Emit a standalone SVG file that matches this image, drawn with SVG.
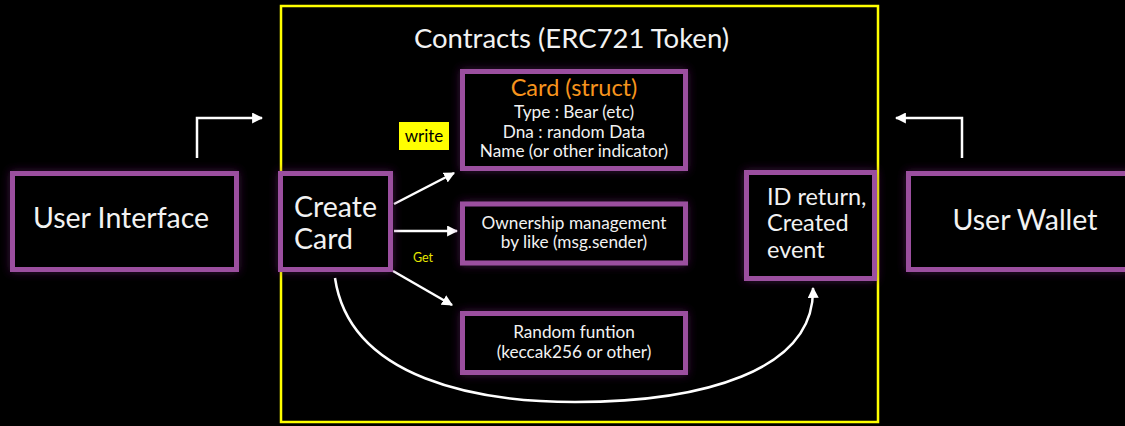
<svg xmlns="http://www.w3.org/2000/svg" width="1125" height="426" viewBox="0 0 1125 426">
<defs>
<style>
.box{fill:#050005;stroke:#9B509F;stroke-width:5;filter:url(#glow)}
.t{font-family:Lato,"Noto Sans",sans-serif;fill:#F2F2F2}
.big{font-size:28.5px}
.mid{font-size:23.5px}
.sm{font-size:17.2px}
.ln{fill:none;stroke:#FFFFFF;stroke-width:2.5}
</style>
<filter id="glow" x="-20%" y="-30%" width="140%" height="160%">
<feGaussianBlur in="SourceAlpha" stdDeviation="5" result="b"/>
<feFlood flood-color="#6A1F70" flood-opacity="0.55"/>
<feComposite in2="b" operator="in" result="g"/>
<feMerge><feMergeNode in="g"/><feMergeNode in="SourceGraphic"/></feMerge>
</filter>
<marker id="ah" viewBox="0 0 10 10" refX="9" refY="5" markerWidth="4.4" markerHeight="4.4" markerUnits="strokeWidth" orient="auto">
<path d="M0,0 L10,5 L0,10 z" fill="#FFFFFF"/>
</marker>
</defs>
<rect width="1125" height="426" fill="#000000"/>
<g id="contracts-frame">
<rect x="281" y="6" width="597" height="416" fill="none" stroke="#FFFF00" stroke-width="2.5"/>
<text class="t" x="571.5" y="48" font-size="27.5" text-anchor="middle">Contracts (ERC721 Token)</text>
</g>
<g id="connectors">
<polyline class="ln" points="197,158 197,118 262,118" marker-end="url(#ah)"/>
<polyline class="ln" points="962,158 962,118 896,118" marker-end="url(#ah)"/>
<line class="ln" x1="394" y1="204" x2="454" y2="173" marker-end="url(#ah)"/>
<line class="ln" x1="394" y1="231" x2="457" y2="231" marker-end="url(#ah)"/>
<line class="ln" x1="393" y1="271" x2="452" y2="305" marker-end="url(#ah)"/>
<path class="ln" d="M335,278 C350,380 480,402 575,402 C700,402 815,372 813,288" marker-end="url(#ah)"/>
<g id="label-write">
<rect x="399" y="122" width="50" height="28" fill="#FFFF00"/>
<text x="424" y="142" font-family="Lato,'Noto Sans',sans-serif" font-size="17" fill="#000000" text-anchor="middle">write</text>
</g>
<text x="413" y="262" font-family="Lato,'Noto Sans',sans-serif" font-size="12.5" fill="#E6E600">Get</text>
</g>
<g id="user-interface">
<rect class="box" x="12.5" y="173.5" width="224" height="96"/>
<text class="t big" x="121" y="228" text-anchor="middle">User Interface</text>
</g>
<g id="create-card">
<rect class="box" x="280.5" y="173.5" width="110" height="96"/>
<text class="t big" x="294" y="217">Create</text>
<text class="t big" x="294" y="249">Card</text>
</g>
<g id="card-struct">
<rect class="box" x="462.5" y="71.5" width="223" height="97"/>
<text x="574" y="96" font-family="Lato,'Noto Sans',sans-serif" font-size="23.5" fill="#F7941D" text-anchor="middle">Card (struct)</text>
<text class="t sm" x="574" y="118" text-anchor="middle">Type : Bear (etc)</text>
<text class="t sm" x="574" y="137.5" text-anchor="middle">Dna : random Data</text>
<text class="t sm" x="574" y="157" text-anchor="middle">Name (or other indicator)</text>
</g>
<g id="ownership">
<rect class="box" x="462.5" y="204" width="223" height="59"/>
<text class="t sm" x="574" y="229" text-anchor="middle">Ownership management</text>
<text class="t sm" x="574" y="248" text-anchor="middle">by like (msg.sender)</text>
</g>
<g id="random">
<rect class="box" x="462.5" y="313.5" width="223" height="59"/>
<text class="t sm" x="574" y="338" text-anchor="middle">Random funtion</text>
<text class="t sm" x="574" y="358" text-anchor="middle">(keccak256 or other)</text>
</g>
<g id="id-return">
<rect class="box" x="746.5" y="172.5" width="128" height="106"/>
<text class="t mid" x="767" y="205">ID return,</text>
<text class="t mid" x="767" y="231">Created</text>
<text class="t mid" x="767" y="258">event</text>
</g>
<g id="user-wallet">
<rect class="box" x="908.5" y="173.5" width="220" height="96"/>
<text class="t big" x="1025" y="230" text-anchor="middle">User Wallet</text>
</g>
</svg>
